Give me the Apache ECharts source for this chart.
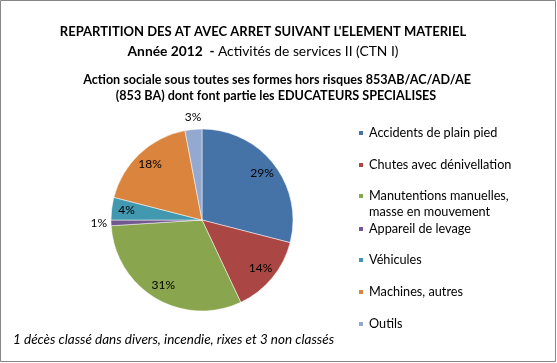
<!DOCTYPE html>
<html><head><meta charset="utf-8">
<script src="https://cdn.jsdelivr.net/npm/echarts@6/dist/echarts.min.js"></script>
<style>html,body{margin:0;padding:0;background:#fff}#c{width:557px;height:363px}</style>
</head><body><div id="c"></div>
<script>
const categories = ['Accidents de plain pied','Chutes avec dénivellation','Manutentions manuelles, masse en mouvement','Appareil de levage','Véhicules','Machines, autres','Outils'];
const values = [29, 14, 31, 1, 4, 18, 3];
const colors = ['#4572A7','#AA4643','#89A54E','#71588F','#4198AF','#DB843D','#93A9CF'];
const outsideLabels = ['Appareil de levage','Outils'];

const FONT = 'Lato, "Liberation Sans", sans-serif';
const cx = 202, cy = 220, R = 91;
const legendCenters = [132, 164, 196, 228, 259, 291, 323];

const mainData = categories.map((n,i)=>{
  const d = {name:n, value:values[i], itemStyle:{color:colors[i]}};
  if (outsideLabels.includes(n)) {
    d.label = {show:true, position:'outside', distanceToLabelLine:0};
    d.labelLine = n==='Outils' ? {show:false, length:12, length2:-9} : {show:false, length:4, length2:0};
  } else {
    d.label = {show:false};
  }
  return d;
});
const labelData = categories.map((n,i)=>({name:n, value:values[i], label:{show:!outsideLabels.includes(n)}}));

const legends = categories.map((n,i)=>{
  const multi = n.indexOf(', masse')>=0;
  return {
    orient:'vertical', left:352, top: legendCenters[i] - (multi ? 29 : 12), padding:5,
    itemWidth:6, itemHeight:6, icon:'rect', selectedMode:false,
    data:[{name:n, itemStyle:{color:colors[i]}}],
    formatter: multi ? '\nManutentions manuelles,\nmasse en mouvement' : '{name}',
    textStyle: {fontFamily:FONT, fontSize:12.7, color:'#000', lineHeight:16}
  };
});

const chart = echarts.init(document.getElementById('c'), null, {renderer:'canvas'});
chart.setOption({
  backgroundColor:'#fff',
  animation:false,
  legend: legends,
  series:[
    {type:'pie', center:[cx,cy], radius:[0,R], startAngle:90, clockwise:true,
     avoidLabelOverlap:false, silent:true,
     itemStyle:{borderColor:'#fff', borderWidth:0.5},
     label:{fontFamily:FONT, fontSize:12, color:'#000', formatter:'{c}%'},
     data: mainData},
    {type:'pie', center:[cx,cy], radius:[0,146], startAngle:90, clockwise:true,
     avoidLabelOverlap:false, silent:true, legendHoverLink:false,
     itemStyle:{color:'rgba(0,0,0,0)', borderWidth:0},
     label:{position:'inside', fontFamily:FONT, fontSize:12, color:'#000', formatter:'{c}%'},
     labelLine:{show:false},
     data: labelData}
  ],
  graphic:[
    {type:'rect', shape:{x:0.5,y:0.5,width:555,height:361}, style:{fill:'none', stroke:'#868686', lineWidth:1}, silent:true},
    {type:'text', x:263, y:32, style:{text:"REPARTITION DES AT AVEC ARRET SUIVANT L'ELEMENT MATERIEL", fontFamily:FONT, fontWeight:'bold', fontSize:13, fill:'#000', align:'center', verticalAlign:'middle'}},
    {type:'text', x:263, y:52, style:{text:'{b|Année 2012  - }{n|Activités de services II (CTN I)}', align:'center', verticalAlign:'middle',
       rich:{b:{fontFamily:FONT, fontWeight:'bold', fontSize:13.8, fill:'#000'}, n:{fontFamily:FONT, fontSize:13.8, fill:'#000'}}}},
    {type:'text', x:277, y:80, style:{text:'Action sociale sous toutes ses formes hors risques 853AB/AC/AD/AE', fontFamily:FONT, fontWeight:'bold', fontSize:12.6, fill:'#000', align:'center', verticalAlign:'middle'}},
    {type:'text', x:276, y:96, style:{text:'(853 BA) dont font partie les EDUCATEURS SPECIALISES', fontFamily:FONT, fontWeight:'bold', fontSize:12.6, fill:'#000', align:'center', verticalAlign:'middle'}},
    {type:'text', x:13, y:340, style:{text:'1 décès classé dans divers, incendie, rixes et 3 non classés', fontFamily:FONT, fontStyle:'italic', fontSize:13.5, fill:'#000', align:'left', verticalAlign:'middle'}}
  ]
});
</script></body></html>
